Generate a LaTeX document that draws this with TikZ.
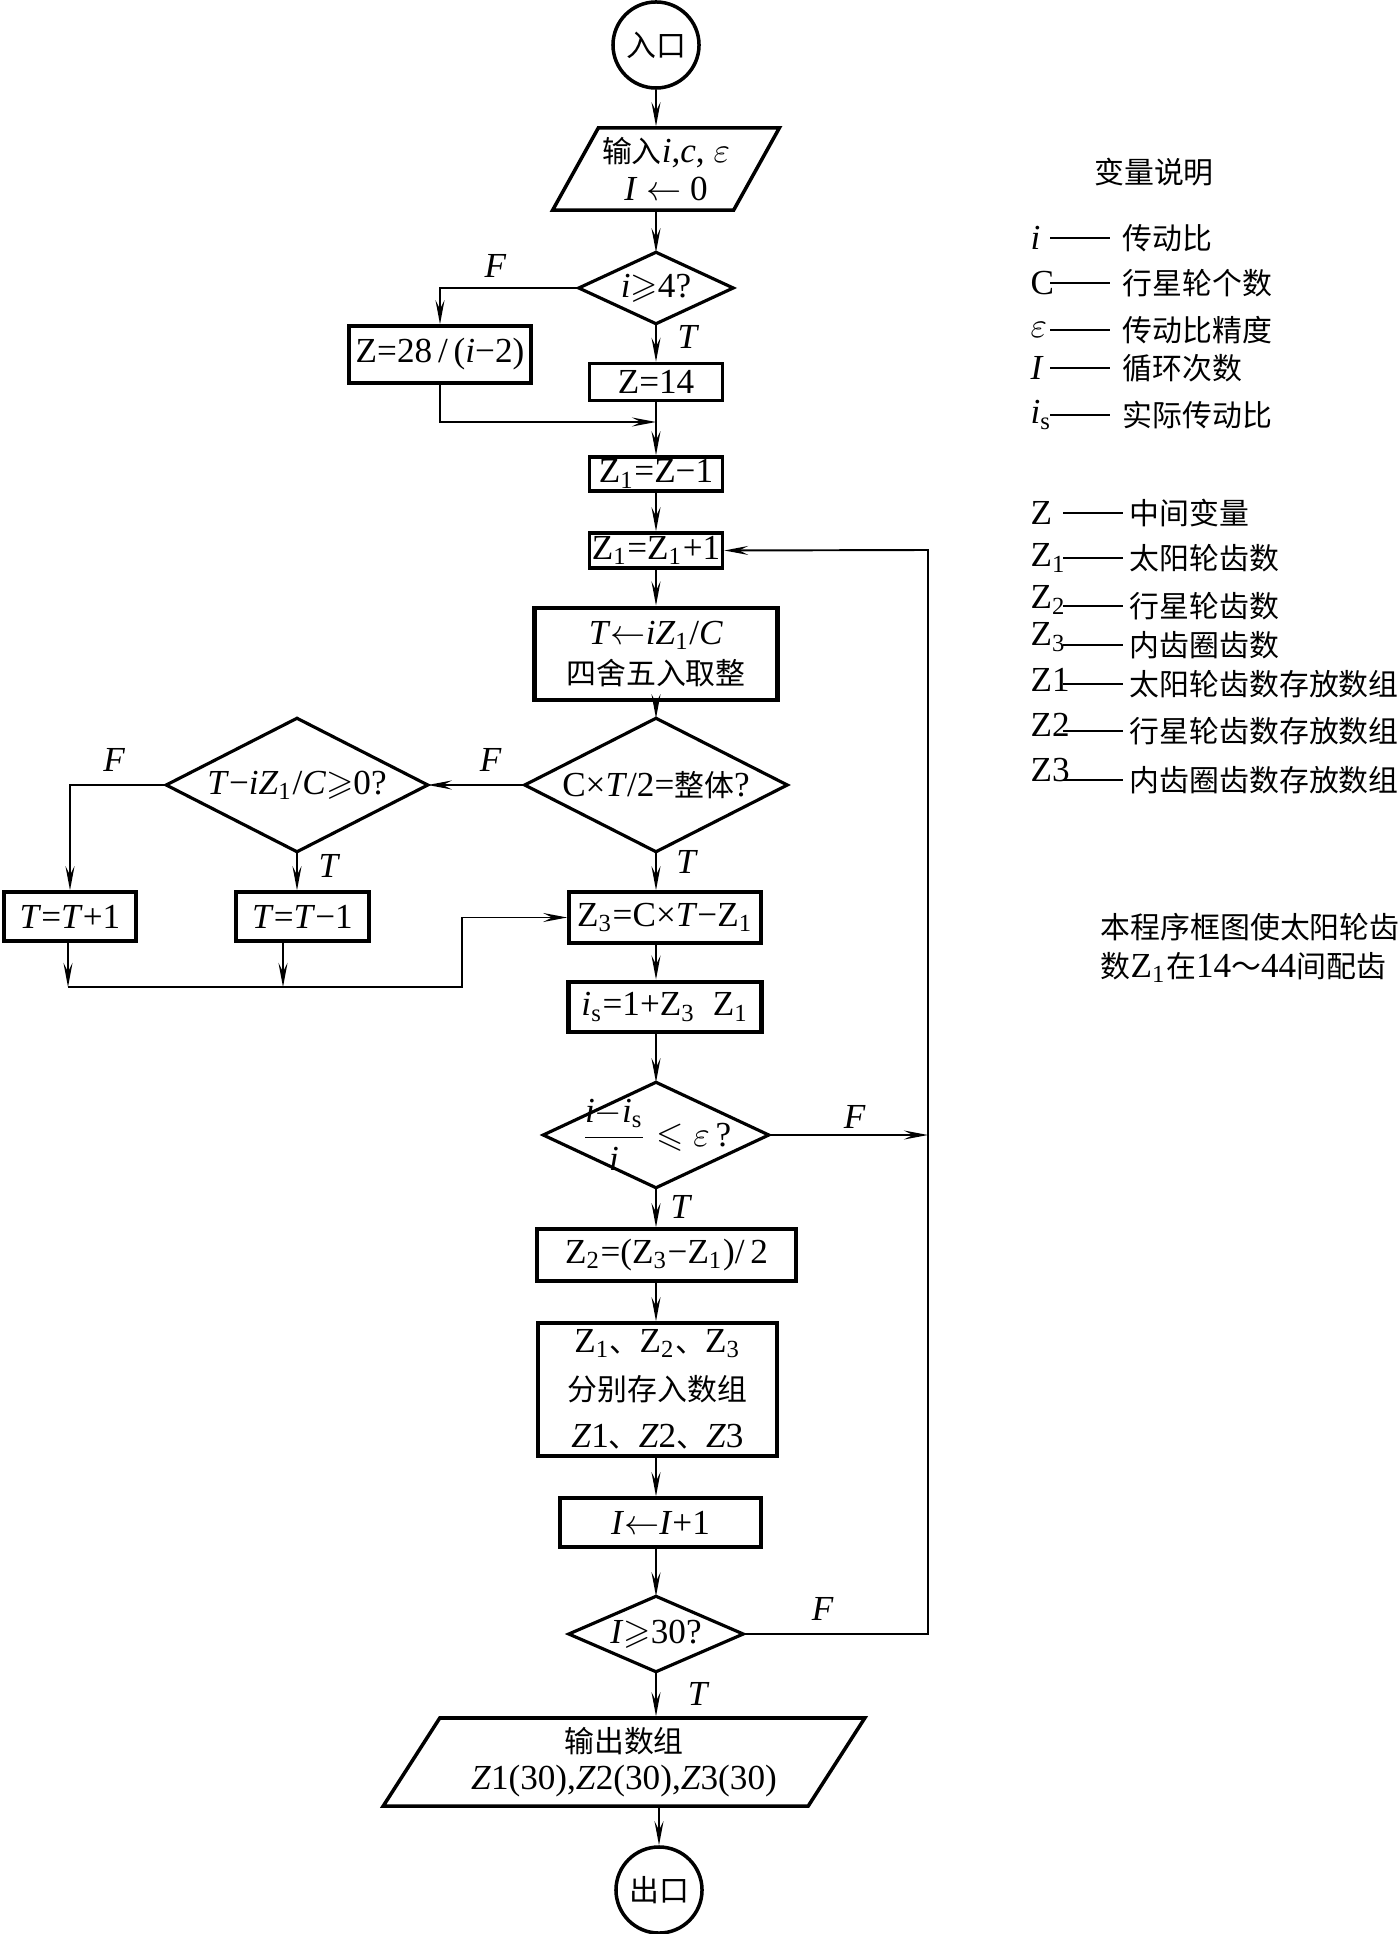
\documentclass[tikz,border=0pt]{standalone}
\usepackage{amsmath,amssymb}
\usepackage{fontspec}
\setmainfont{Liberation Serif}
\newfontfamily\cjk[Scale=0.85]{Noto Sans CJK SC}
\usetikzlibrary{arrows.meta}
\usetikzlibrary{shapes.geometric}
\newcommand{\flowarrow}{\draw[line width=0.55pt, -{Stealth[length=2.4mm,width=0.9mm,inset=0.9mm]}]}
\newcommand{\decision}[1]{\draw[line width=0.9pt] (#1.north) -- (#1.east) -- (#1.south) -- (#1.west) -- cycle}
\newcommand{\sub}[1]{\textsubscript{#1}}

\begin{document}
\begin{tikzpicture}[x=0.01cm, y=-0.01cm,
    proc/.style={draw, rectangle, line width=1pt, inner sep=0pt, align=center},
    cond/.style={rectangle, inner sep=0pt, align=center},
    io/.style={draw, trapezium, trapezium left angle=56, trapezium right angle=124,
        trapezium stretches=true, line width=1pt, inner sep=0pt, align=center},
    term/.style={draw, circle, line width=1pt, inner sep=0pt, minimum size=0.86cm},
    lbl/.style={inner sep=1.5pt}]
    \useasboundingbox (0,0) rectangle (1398,1934);

    % Draw boxes
    \node[term] (entry) at (656,45) {\cjk 入口};
    \node[io, minimum width=2.27cm, minimum height=0.82cm] (inp) at (666,169)
        {{\cjk 输入}\textit{i},\textit{c}, $\varepsilon$\\[-1.1pt]\textit{I} $\leftarrow$ 0};
    \node[cond, minimum width=1.53cm, minimum height=0.70cm] (d1) at (656,288) {\textit{i}$\geqslant$4?};
    \node[proc, minimum width=1.82cm, minimum height=0.57cm] (z28) at (440,354.5) {Z=28\,/\,(\textit{i}−2)};
    \node[proc, minimum width=1.33cm, minimum height=0.37cm] (z14) at (656,382) {Z=14};
    \node[proc, minimum width=1.33cm, minimum height=0.34cm] (zm1) at (656,474) {Z\sub{1}=Z−1};
    \node[proc, minimum width=1.33cm, minimum height=0.35cm] (zinc) at (656,550.5) {Z\sub{1}=Z\sub{1}+1};
    \node[proc, line width=1.4pt, minimum width=2.43cm, minimum height=0.92cm] (tcalc) at (656,654)
        {\textit{T}$\leftarrow$\textit{iZ}\sub{1}/\textit{C}\\[-0.6pt]{\cjk 四舍五入取整}};
    \node[cond, minimum width=2.61cm, minimum height=1.32cm] (d2) at (656,785) {C×\textit{T}/2={\cjk 整体}?};
    \node[cond, minimum width=2.60cm, minimum height=1.32cm] (dT) at (297,785) {\textit{T}−\textit{iZ}\sub{1}/\textit{C}$\geqslant$0?};
    \node[proc, minimum width=1.32cm, minimum height=0.49cm] (tp1) at (70,916.5) {\textit{T}=\textit{T}+1};
    \node[proc, minimum width=1.33cm, minimum height=0.49cm] (tm1) at (302.5,916.5) {\textit{T}=\textit{T}−1};
    \node[proc, minimum width=1.92cm, minimum height=0.51cm] (z3) at (665,917.5) {Z\sub{3}=C×\textit{T}−Z\sub{1}};
    \node[proc, line width=1.4pt, minimum width=1.92cm, minimum height=0.50cm] (is) at (665,1007) {\textit{i}\sub{s}=1+Z\sub{3}\ \ Z\sub{1}};
    \node[cond, minimum width=2.24cm, minimum height=1.04cm] (deps) at (656,1135)
        {$\dfrac{\textit{i}{-}\textit{i}_{\mathrm{s}}}{\textit{i}}$ $\leqslant\varepsilon$\,?};
    \node[proc, minimum width=2.59cm, minimum height=0.52cm] (z2) at (666.5,1255) {Z\sub{2}=(Z\sub{3}−Z\sub{1})/\,2};
    \node[proc, minimum width=2.39cm, minimum height=1.33cm] (store) at (657.5,1389.5)
        {Z\sub{1}{\cjk 、}Z\sub{2}{\cjk 、}Z\sub{3}\\[1.5pt]{\cjk 分别存入数组}\\[1.5pt]\textit{Z}1{\cjk 、}\textit{Z}2{\cjk 、}\textit{Z}3};
    \node[proc, minimum width=2.01cm, minimum height=0.49cm] (incI) at (660.5,1522.5) {\textit{I}$\leftarrow$\textit{I}+1};
    \node[cond, minimum width=1.73cm, minimum height=0.74cm] (d30) at (656,1634) {\textit{I}$\geqslant$30?};
    \node[io, minimum width=4.82cm, minimum height=0.88cm] (out) at (624,1762)
        {{\cjk 输出数组}\\[-1.5pt]\textit{Z}1(30),\textit{Z}2(30),\textit{Z}3(30)};
    \node[term] (exit) at (659,1890) {\cjk 出口};

    \decision{d1};
    \decision{d2};
    \decision{dT};
    \decision{deps};
    \decision{d30};

    % Corners of the connectors
    \coordinate (ax) at (656,0);
    \coordinate (m1) at (656,422);
    \coordinate (j1) at (68,987);
    \coordinate (j2) at (283,987);
    \coordinate (j3) at (462,987);
    \coordinate (back) at (928,550);

    % Draw connectors
    \flowarrow (entry) -- (ax |- inp.north);
    \flowarrow (ax |- inp.south) -- (d1.north);
    \flowarrow (d1.south) -- (z14.north) node[lbl, pos=0.34, right=4.4pt] {\textit{T}};
    \flowarrow (d1.west) -| (z28.north) node[lbl, pos=0.3, above=1.3pt] {\textit{F}};
    \flowarrow (z14) -- (zm1);
    \flowarrow (z28.south) |- (m1);
    \flowarrow (zm1) -- (zinc);
    \flowarrow (zinc) -- (tcalc);
    \flowarrow (tcalc) -- (d2.north);
    \flowarrow (d2.west) -- (dT.east) node[lbl, pos=0.35, above=2pt] {\textit{F}};
    \flowarrow (d2.south) -- (d2.south |- z3.north) node[lbl, pos=0.27, right=4pt] {\textit{T}};
    \flowarrow (dT.west) -| (tp1.north) node[lbl, pos=0.27, above=2pt] {\textit{F}};
    \flowarrow (dT.south) -- (dT.south |- tm1.north) node[lbl, pos=0.37, right=4.4pt] {\textit{T}};
    \flowarrow (tp1.south -| j1) -- (j1);
    \flowarrow (tm1.south -| j2) -- (j2);
    \flowarrow (j1) -- (j3) |- (z3.west);
    \flowarrow (ax |- z3.south) -- (ax |- is.north);
    \flowarrow (ax |- is.south) -- (deps.north);
    \flowarrow (deps.south) -- (ax |- z2.north) node[lbl, pos=0.48, right=2.4pt] {\textit{T}};
    \flowarrow (deps.east) -- (deps.east -| back) node[lbl, pos=0.54, above=0pt] {\textit{F}};
    \flowarrow (ax |- z2.south) -- (ax |- store.north);
    \flowarrow (ax |- store.south) -- (ax |- incI.north);
    \flowarrow (ax |- incI.south) -- (d30.north);
    \flowarrow (d30.east) -| (back) node[lbl, pos=0.215, above=2pt] {\textit{F}} -- (zinc.east);
    \flowarrow (d30.south) -- (ax |- out.north) node[lbl, pos=0.49, right=7.3pt] {\textit{T}};
    \flowarrow (exit |- out.south) -- (exit.north);

    % Legend
    \node (legtitle) at (1154,172) {\cjk 变量说明};
    \coordinate (leg1) at (1050,0);
    \coordinate (leg2) at (1063,0);
    \foreach \ly/\lsym/\ltext [count=\k] in {238/\textit{i}/传动比, 283/C/行星轮个数,
        330/$\varepsilon$/传动比精度, 368/\textit{I}/循环次数, 415/\textit{i}\sub{s}/实际传动比} {
        \node[anchor=west, inner sep=0pt] (sa\k) at (1030,\ly) {\lsym};
        \node[anchor=west, inner xsep=3.4pt, inner ysep=0pt] (ta\k) at (1110,\ly) {\cjk \ltext};
        \draw[line width=0.5pt] (leg1 |- ta\k.west) -- (ta\k.west);
    }
    \foreach \ls/\ly/\lsym/\ltext [count=\k] in {513/513/Z/中间变量,
        558/558/Z\sub{1}/太阳轮齿数, 600/606/Z\sub{2}/行星轮齿数,
        637/645/Z\sub{3}/内齿圈齿数, 680/684/Z1/太阳轮齿数存放数组,
        725/731/Z2/行星轮齿数存放数组, 770/780/Z3/内齿圈齿数存放数组} {
        \node[anchor=west, inner sep=0pt] (sb\k) at (1030,\ls) {\lsym};
        \node[anchor=west, inner xsep=1.7pt, inner ysep=0pt] (tb\k) at (1123,\ly) {\cjk \ltext};
        \draw[line width=0.5pt] (leg2 |- tb\k.west) -- (tb\k.west);
    }

    % Note
    \node[anchor=west, align=left, inner sep=0pt] (note) at (1100,948)
        {{\cjk 本程序框图使太阳轮齿}\\[-0.9pt]{\cjk 数}Z\sub{1}{\cjk 在}14{\cjk ～}44{\cjk 间配齿}};
\end{tikzpicture}
\end{document}
